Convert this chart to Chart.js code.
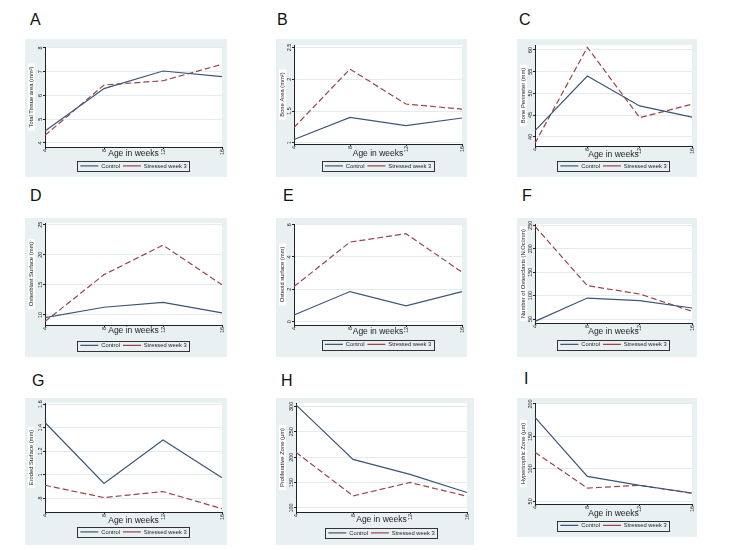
<!DOCTYPE html>
<html lang="en">
<head>
<meta charset="UTF-8">
<title>Bone measures by age</title>
<style>
  body { margin: 0; background: #fff; font-family: "Liberation Sans", Arial, sans-serif; }
  #page { position: relative; width: 732px; height: 550px; }
  .letter { position: absolute; font-size: 16px; line-height: 16px; color: #111; }
  .panel { position: absolute; background: #e9f0f2; }
  .panel canvas { display: block; }
</style>
</head>
<body>
<div id="page"></div>
<script src="https://cdn.jsdelivr.net/npm/chart.js"></script>
<script>
  const weeks = ['4', '8', '12', '16'];
  const seriesNames = ['Control', 'Stressed week 3'];

  // A - total tissue area
  const controlA = [4.50, 6.29, 7.03, 6.79];
  const stressedA = [4.32, 6.44, 6.62, 7.31];
  const ticksA = [4, 5, 6, 7, 8];
  const labelsA = ['4', '5', '6', '7', '8'];
  const rangeA = [3.83, 8.04];

  // B - bone area
  const controlB = [1.05, 1.40, 1.27, 1.39];
  const stressedB = [1.24, 2.16, 1.61, 1.53];
  const ticksB = [1, 1.5, 2, 2.5];
  const labelsB = ['1', '1.5', '2', '2.5'];
  const rangeB = [0.98, 2.54];

  // C - bone perimeter
  const controlC = [41.4, 54.0, 47.1, 44.5];
  const stressedC = [38.5, 60.6, 44.4, 47.5];
  const ticksC = [40, 45, 50, 55, 60];
  const labelsC = ['40', '45', '50', '55', '60'];
  const rangeC = [37.85, 61.15];

  // D - osteoblast surface
  const controlD = [9.56, 11.28, 12.1, 10.33];
  const stressedD = [8.9, 16.7, 21.6, 15.0];
  const ticksD = [10, 15, 20, 25];
  const labelsD = ['10', '15', '20', '25'];
  const rangeD = [8.33, 25.28];

  // E - osteoid surface
  const controlE = [0.41, 1.86, 0.97, 1.86];
  const stressedE = [2.17, 4.92, 5.44, 3.06];
  const ticksE = [0, 2, 4, 6];
  const labelsE = ['0', '2', '4', '6'];
  const rangeE = [-0.21, 6.04];

  // F - number of osteoclasts
  const controlF = [45, 94.8, 89.1, 73.5];
  const stressedF = [247.9, 121.2, 103.4, 66.4];
  const ticksF = [50, 100, 150, 200, 250];
  const labelsF = ['50', '100', '150', '200', '250'];
  const rangeF = [41.5, 252.8];

  // G - eroded surface
  const controlG = [1.444, 0.928, 1.296, 0.976];
  const stressedG = [0.913, 0.809, 0.860, 0.715];
  const ticksG = [0.8, 1, 1.2, 1.4, 1.6];
  const labelsG = ['.8', '1', '1.2', '1.4', '1.6'];
  const rangeG = [0.687, 1.609];

  // H - proliferative zone
  const controlH = [303, 195.7, 166, 130.4];
  const stressedH = [209.6, 123.8, 150.2, 123.1];
  const ticksH = [100, 150, 200, 250, 300];
  const labelsH = ['100', '150', '200', '250', '300'];
  const rangeH = [92.1, 306.6];

  // I - hypertrophic zone
  const controlI = [179.4, 88.5, 74.7, 62.8];
  const stressedI = [125.5, 70.5, 74.7, 62.3];
  const ticksI = [50, 100, 150, 200];
  const labelsI = ['50', '100', '150', '200'];
  const rangeI = [45.9, 201.5];

  const panels = [
    { letter: 'A', title: 'Total Tissue area (mm²)', control: controlA, stressed: stressedA, ticks: ticksA, labels: labelsA, range: rangeA },
    { letter: 'B', title: 'Bone Area (mm²)', control: controlB, stressed: stressedB, ticks: ticksB, labels: labelsB, range: rangeB },
    { letter: 'C', title: 'Bone Perimeter (mm)', control: controlC, stressed: stressedC, ticks: ticksC, labels: labelsC, range: rangeC },
    { letter: 'D', title: 'Osteoblast Surface (mm)', control: controlD, stressed: stressedD, ticks: ticksD, labels: labelsD, range: rangeD },
    { letter: 'E', title: 'Osteoid surface (mm)', control: controlE, stressed: stressedE, ticks: ticksE, labels: labelsE, range: rangeE },
    { letter: 'F', title: 'Number of Osteoclasts (N.Oc/mm)', control: controlF, stressed: stressedF, ticks: ticksF, labels: labelsF, range: rangeF },
    { letter: 'G', title: 'Eroded Surface (mm)', control: controlG, stressed: stressedG, ticks: ticksG, labels: labelsG, range: rangeG },
    { letter: 'H', title: 'Proliferative Zone (µm)', control: controlH, stressed: stressedH, ticks: ticksH, labels: labelsH, range: rangeH },
    { letter: 'I', title: 'Hypertrophic Zone (µm)', control: controlI, stressed: stressedI, ticks: ticksI, labels: labelsI, range: rangeI }
  ];

  // where each panel sits on the page (box) and where its plot sits in the box
  const boxes = [
    { lx: 30,  ly: 12,  x: 25,  y: 39,  w: 202, h: 138, l: 20, t: 8, r: 5, b: 108, titleY: 115,   legendY: 127 },
    { lx: 277, ly: 12,  x: 276, y: 39,  w: 191, h: 138, l: 18, t: 6, r: 5, b: 105, titleY: 115,   legendY: 127 },
    { lx: 519, ly: 12,  x: 517, y: 39,  w: 180, h: 138, l: 18, t: 6, r: 5, b: 107, titleY: 115.5, legendY: 127 },
    { lx: 30,  ly: 188, x: 25,  y: 218, w: 202, h: 139, l: 20, t: 5, r: 5, b: 107, titleY: 113,   legendY: 127.5 },
    { lx: 283, ly: 188, x: 276, y: 218, w: 191, h: 139, l: 18, t: 6, r: 5, b: 107, titleY: 114,   legendY: 126.5 },
    { lx: 522, ly: 188, x: 517, y: 218, w: 180, h: 139, l: 18, t: 6, r: 5, b: 105, titleY: 113.5, legendY: 126.5 },
    { lx: 32,  ly: 373, x: 25,  y: 398, w: 202, h: 147, l: 20, t: 5, r: 5, b: 114, titleY: 122.5, legendY: 134 },
    { lx: 281, ly: 373, x: 276, y: 398, w: 198, h: 147, l: 20, t: 5, r: 7, b: 114, titleY: 122,   legendY: 135 },
    { lx: 524, ly: 371, x: 517, y: 398, w: 180, h: 139, l: 18, t: 5, r: 5, b: 106, titleY: 116,   legendY: 127.5 }
  ];

  const FONT = '"Liberation Sans", Arial, sans-serif';
  Chart.defaults.font.family = FONT;
  Chart.defaults.color = '#222';

  // white plot region, white strip behind y title, rotated y labels, legend frame
  function makeDeco(p) {
    return {
      id: 'deco',
      beforeDraw(chart) {
        const { ctx, chartArea: a } = chart;
        ctx.save();
        ctx.fillStyle = '#fff';
        ctx.fillRect(a.left, a.top, a.right - a.left, a.bottom - a.top);
        ctx.font = '5.8px ' + FONT;
        const tw = ctx.measureText(p.title).width;
        const cx = chart.scales.y.left + 3 + 3.5;
        ctx.fillRect(cx - 3.5, (a.top + a.bottom) / 2 - tw / 2 - 3, 7, tw + 6);
        ctx.restore();
      },
      afterDraw(chart) {
        const { ctx } = chart;
        const ys = chart.scales.y;
        ctx.save();
        ctx.font = '5.5px ' + FONT;
        ctx.fillStyle = '#222';
        ctx.textAlign = 'center';
        ctx.textBaseline = 'middle';
        p.ticks.forEach((v, i) => {
          ctx.save();
          ctx.translate(ys.right - 5, ys.getPixelForValue(v));
          ctx.rotate(-Math.PI / 2);
          ctx.fillText(p.labels[i], 0, 0);
          ctx.restore();
        });
        const hb = chart.legend.legendHitBoxes;
        if (hb && hb.length) {
          const x0 = Math.min(...hb.map(h => h.left)) - 3;
          const x1 = Math.max(...hb.map(h => h.left + h.width)) + 3;
          const y0 = hb[0].top - 2;
          const y1 = hb[0].top + hb[0].height + 2;
          ctx.strokeStyle = '#333';
          ctx.lineWidth = 1;
          ctx.strokeRect(Math.round(x0) + 0.5, Math.round(y0) + 0.5, Math.round(x1 - x0), Math.round(y1 - y0));
        }
        ctx.restore();
      }
    };
  }

  const page = document.getElementById('page');

  panels.forEach((p, i) => {
    const g = boxes[i];

    const letter = document.createElement('div');
    letter.className = 'letter';
    letter.style.left = g.lx + 'px';
    letter.style.top = g.ly + 'px';
    letter.textContent = p.letter;
    page.appendChild(letter);

    const box = document.createElement('div');
    box.className = 'panel';
    box.style.left = g.x + 'px';
    box.style.top = g.y + 'px';
    box.style.width = g.w + 'px';
    box.style.height = g.h + 'px';
    const canvas = document.createElement('canvas');
    canvas.width = g.w;
    canvas.height = g.h;
    box.appendChild(canvas);
    page.appendChild(box);

    const legendTop = g.legendY - 6;
    const xTitlePad = Math.max(legendTop - g.titleY - 5.1, 0);

    new Chart(canvas, {
      type: 'line',
      data: {
        labels: weeks,
        datasets: [
          { label: seriesNames[0], data: p.control, borderColor: '#3c5677', borderWidth: 1.2, pointRadius: 0, fill: false, tension: 0 },
          { label: seriesNames[1], data: p.stressed, borderColor: '#9e434b', borderWidth: 1.2, borderDash: [6, 3], pointRadius: 0, fill: false, tension: 0 }
        ]
      },
      options: {
        responsive: false,
        animation: false,
        events: [],
        layout: { padding: { left: 0, top: g.t, right: g.r, bottom: g.h - g.legendY - 6 } },
        plugins: {
          tooltip: { enabled: false },
          legend: {
            position: 'bottom',
            fullSize: false,
            maxHeight: 12,
            labels: {
              usePointStyle: true,
              pointStyle: 'line',
              pointStyleWidth: 18,
              padding: 3,
              color: '#222',
              font: { size: 5.8 }
            }
          }
        },
        scales: {
          x: {
            type: 'category',
            offset: false,
            grid: { drawOnChartArea: false, drawTicks: true, tickLength: 2, tickColor: '#222' },
            border: { display: true, color: '#222', width: 1 },
            ticks: { minRotation: 90, maxRotation: 90, padding: 0, font: { size: 5.5 }, color: '#222' },
            title: { display: true, text: 'Age in weeks', font: { size: 8.5 }, color: '#222', padding: { top: 0, bottom: xTitlePad } },
            afterFit(s) {
              s.height = legendTop - g.b;
              s.paddingLeft = 0;
              s.paddingRight = 0;
            }
          },
          y: {
            min: p.range[0],
            max: p.range[1],
            afterBuildTicks(s) {
              s.ticks = p.ticks.map(v => ({ value: v }));
            },
            ticks: { display: false },
            grid: { color: '#e3ebee', lineWidth: 1, drawTicks: true, tickLength: 2, tickColor: '#222' },
            border: { display: true, color: '#222', width: 1 },
            title: { display: true, text: p.title, font: { size: 5.8 }, color: '#222', padding: { top: 3, bottom: 0 } },
            afterFit(s) {
              s.width = g.l;
              s.paddingTop = 0;
              s.paddingBottom = 0;
            }
          }
        }
      },
      plugins: [makeDeco(p)]
    });
  });
</script>
</body>
</html>
